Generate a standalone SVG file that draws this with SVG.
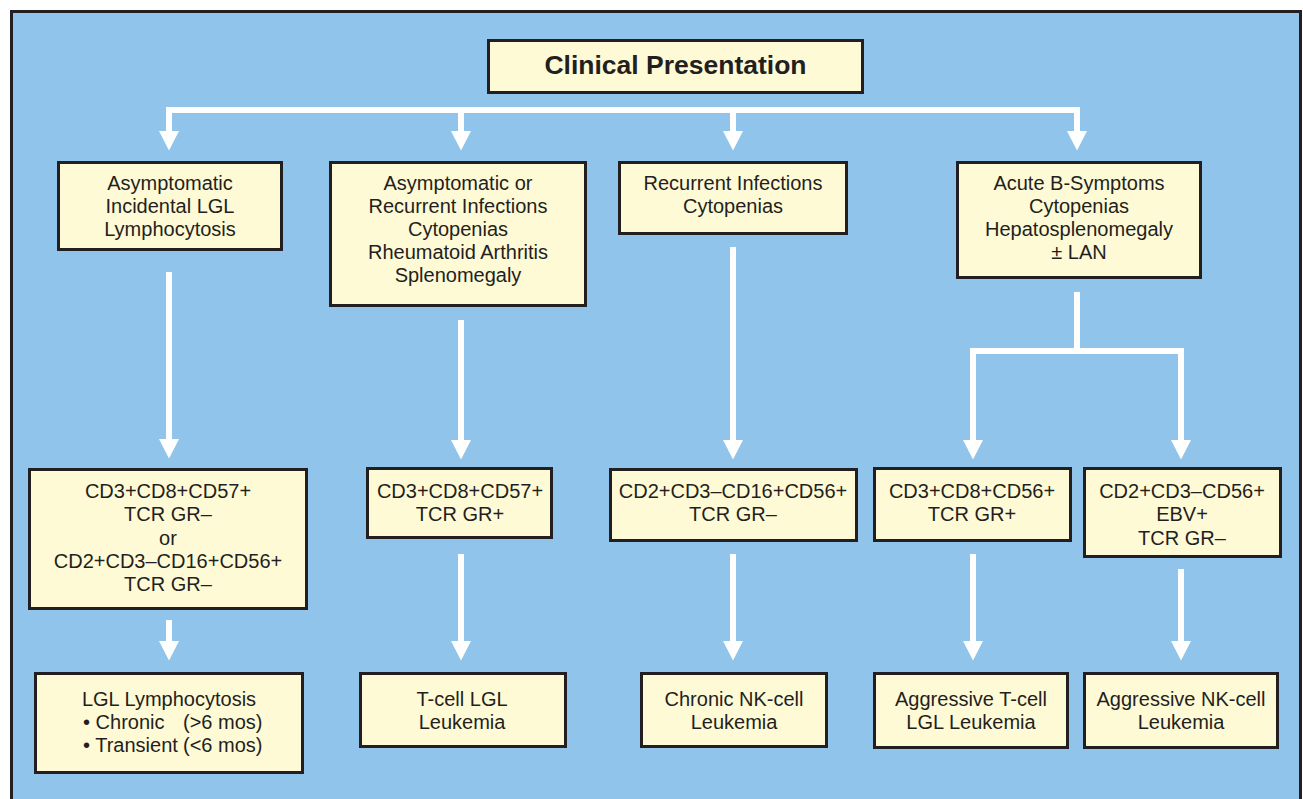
<svg xmlns="http://www.w3.org/2000/svg" width="1303" height="799" viewBox="0 0 1303 799">
<defs>
<style>
.box{fill:#fffad6;stroke:#231f20;stroke-width:3}
.t{font-family:"Liberation Sans",Arial,sans-serif;font-size:20px;fill:#231f20;text-anchor:middle}
.title{font-family:"Liberation Sans",Arial,sans-serif;font-size:26.5px;font-weight:bold;fill:#231f20;text-anchor:middle}
.c{fill:none;stroke:#ffffff;stroke-width:6;stroke-linejoin:miter}
</style>
<marker id="ah" markerUnits="userSpaceOnUse" markerWidth="21" markerHeight="22" viewBox="0 -11 21 22" refX="1" refY="0" orient="auto-start-reverse" overflow="visible">
<path d="M0,-10 L19.5,0 L0,10 Z" fill="#ffffff"/>
</marker>
</defs>
<rect x="11.5" y="11.5" width="1289" height="800" fill="#91c4ea" stroke="#231f20" stroke-width="3"/>

<g id="connectors">
<path class="c" d="M169,132 V110 H1077 V132" marker-start="url(#ah)" marker-end="url(#ah)"/>
<path class="c" d="M461,107 V132" marker-end="url(#ah)"/>
<path class="c" d="M733,107 V132" marker-end="url(#ah)"/>
<path class="c" d="M169,272 V440" marker-end="url(#ah)"/>
<path class="c" d="M461,320 V441" marker-end="url(#ah)"/>
<path class="c" d="M733,247 V441" marker-end="url(#ah)"/>
<path class="c" d="M1077,292 V352"/>
<path class="c" d="M973,441 V351 H1181 V441" marker-start="url(#ah)" marker-end="url(#ah)"/>
<path class="c" d="M169,620 V642" marker-end="url(#ah)"/>
<path class="c" d="M461,554 V642" marker-end="url(#ah)"/>
<path class="c" d="M733,554 V642" marker-end="url(#ah)"/>
<path class="c" d="M973,554 V642" marker-end="url(#ah)"/>
<path class="c" d="M1181,569 V642" marker-end="url(#ah)"/>
</g>

<g id="title">
<rect class="box" x="488.5" y="40.5" width="374" height="52"/>
<text class="title" x="675.5" y="74">Clinical Presentation</text>
</g>

<g id="a1">
<rect class="box" x="58.5" y="162.5" width="223" height="87"/>
<text class="t" x="170"><tspan x="170" y="190">Asymptomatic</tspan><tspan x="170" y="213">Incidental LGL</tspan><tspan x="170" y="236">Lymphocytosis</tspan></text>
</g>
<g id="a2">
<rect class="box" x="330.5" y="162.5" width="255" height="143"/>
<text class="t" x="458"><tspan x="458" y="190">Asymptomatic or</tspan><tspan x="458" y="213">Recurrent Infections</tspan><tspan x="458" y="236">Cytopenias</tspan><tspan x="458" y="259">Rheumatoid Arthritis</tspan><tspan x="458" y="282">Splenomegaly</tspan></text>
</g>
<g id="a3">
<rect class="box" x="619.5" y="162.5" width="227" height="71"/>
<text class="t" x="733"><tspan x="733" y="190">Recurrent Infections</tspan><tspan x="733" y="213">Cytopenias</tspan></text>
</g>
<g id="a4">
<rect class="box" x="957.5" y="162.5" width="243" height="115"/>
<text class="t" x="1079"><tspan x="1079" y="190">Acute B-Symptoms</tspan><tspan x="1079" y="213">Cytopenias</tspan><tspan x="1079" y="236">Hepatosplenomegaly</tspan><tspan x="1079" y="259">± LAN</tspan></text>
</g>

<g id="b1">
<rect class="box" x="29.5" y="469.5" width="277" height="139"/>
<text class="t" x="168"><tspan x="168" y="498">CD3+CD8+CD57+</tspan><tspan x="168" y="521">TCR GR–</tspan><tspan x="168" y="545">or</tspan><tspan x="168" y="568">CD2+CD3–CD16+CD56+</tspan><tspan x="168" y="591">TCR GR–</tspan></text>
</g>
<g id="b2">
<rect class="box" x="367.5" y="468.5" width="184" height="69"/>
<text class="t" x="460"><tspan x="460" y="498">CD3+CD8+CD57+</tspan><tspan x="460" y="521">TCR GR+</tspan></text>
</g>
<g id="b3">
<rect class="box" x="610.5" y="469.5" width="246" height="71"/>
<text class="t" x="733"><tspan x="733" y="498">CD2+CD3–CD16+CD56+</tspan><tspan x="733" y="521">TCR GR–</tspan></text>
</g>
<g id="b4">
<rect class="box" x="874.5" y="468.5" width="196" height="72"/>
<text class="t" x="972"><tspan x="972" y="498">CD3+CD8+CD56+</tspan><tspan x="972" y="521">TCR GR+</tspan></text>
</g>
<g id="b5">
<rect class="box" x="1084.5" y="468.5" width="196" height="88"/>
<text class="t" x="1182"><tspan x="1182" y="498">CD2+CD3–CD56+</tspan><tspan x="1182" y="521">EBV+</tspan><tspan x="1182" y="545">TCR GR–</tspan></text>
</g>

<g id="c1">
<rect class="box" x="35.5" y="673.5" width="267" height="99"/>
<text class="t" x="169" y="706">LGL Lymphocytosis</text>
<text class="t" style="text-anchor:start"><tspan x="83" y="729">• Chronic</tspan><tspan x="183" y="729">(&gt;6 mos)</tspan><tspan x="83" y="752">• Transient</tspan><tspan x="183" y="752">(&lt;6 mos)</tspan></text>
</g>
<g id="c2">
<rect class="box" x="360.5" y="673.5" width="205" height="73"/>
<text class="t" x="462"><tspan x="462" y="706">T-cell LGL</tspan><tspan x="462" y="729">Leukemia</tspan></text>
</g>
<g id="c3">
<rect class="box" x="641.5" y="673.5" width="185" height="73"/>
<text class="t" x="734"><tspan x="734" y="706">Chronic NK-cell</tspan><tspan x="734" y="729">Leukemia</tspan></text>
</g>
<g id="c4">
<rect class="box" x="874.5" y="673.5" width="193" height="74"/>
<text class="t" x="971"><tspan x="971" y="706">Aggressive T-cell</tspan><tspan x="971" y="729">LGL Leukemia</tspan></text>
</g>
<g id="c5">
<rect class="box" x="1084.5" y="673.5" width="193" height="74"/>
<text class="t" x="1181"><tspan x="1181" y="706">Aggressive NK-cell</tspan><tspan x="1181" y="729">Leukemia</tspan></text>
</g>
</svg>
